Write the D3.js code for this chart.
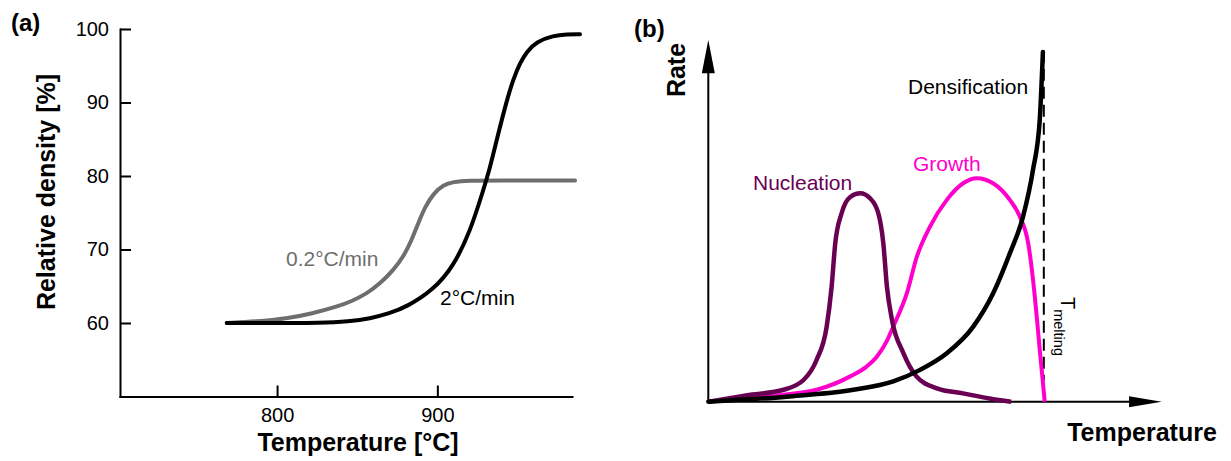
<!DOCTYPE html>
<html>
<head>
<meta charset="utf-8">
<script src="https://cdn.jsdelivr.net/npm/d3@7"></script>
<style>
  body { margin: 0; background: #fff; }
  svg { display: block; }
  text { font-family: Arial, "Liberation Sans", sans-serif; }
</style>
</head>
<body>
<svg id="fig" width="1231" height="461"></svg>
<script>
// ---------- Panel (a): relative density vs. temperature ----------
const slowTemp    = [768.6, 787.0, 806.0, 822.0, 837.2, 847.0, 855.9, 864.5, 872.5, 878.8, 884.0, 888.1, 892.3, 897.5, 903.7, 910.0, 918.3, 940.0, 965.0, 985.9];
const slowDensity = [60.0, 60.2, 60.6, 61.3, 62.2, 63.0, 64.0, 65.4, 67.2, 69.0, 71.3, 73.6, 75.8, 77.6, 78.8, 79.2, 79.4, 79.4, 79.4, 79.4];
const fastTemp    = [768.6, 800.0, 826.8, 845.0, 858.0, 870.0, 880.9, 897.5, 910.0, 920.4, 928.7, 932.8, 937.0, 943.3, 947.4, 951.6, 955.7, 962.0, 972.3, 980.7, 989.0];
const fastDensity = [60.0, 60.0, 60.0, 60.2, 60.6, 61.3, 62.2, 64.5, 67.7, 72.4, 78.1, 81.1, 84.9, 90.3, 93.2, 95.4, 96.9, 98.3, 99.1, 99.3, 99.3];
const densityTicks = [60, 70, 80, 90, 100];
const tempTicks    = [800, 900];

// ---------- Panel (b): schematic rates vs. temperature ----------
const nucT    = [0, 9.3, 16.6, 21.0, 23.9, 26.1, 27.2, 28.0, 29.4, 31.3, 33.5, 35.7, 37.5, 38.6, 39.4, 40.5, 43.0, 45.9, 50.4, 56.2, 62.0, 66.8];
const nucRate = [0, 1.9, 3.3, 6.0, 11.6, 20.7, 31.8, 43.8, 52.1, 56.6, 57.6, 56.2, 52.1, 43.8, 31.8, 22.7, 13.5, 7.0, 3.7, 2.3, 0.9, 0];
const growT    = [0, 12.9, 23.9, 31.3, 34.9, 37.2, 39.3, 40.8, 43.8, 46.0, 48.9, 52.6, 56.2, 59.2, 62.8, 66.5, 68.7, 70.6, 71.7, 72.5, 73.1, 73.7, 74.2];
const growRate = [0, 1.5, 3.3, 7.0, 9.7, 12.5, 16.6, 20.8, 30.0, 40.1, 48.4, 55.8, 60.4, 61.8, 60.4, 55.8, 51.2, 43.5, 32.8, 22.7, 14.4, 6.6, 0];
const densT    = [0, 17.3, 32.0, 40.8, 46.7, 52.6, 58.4, 62.8, 66.5, 69.4, 71.6, 73.1, 73.8];
const densRate = [0, 1.4, 3.3, 5.6, 8.8, 13.4, 20.7, 29.9, 41.0, 51.1, 64.0, 77.9, 96.7];
const meltingT = 74.0;

const COLORS = { slow: "#6e6e6e", fast: "#000", nuc: "#690052", grow: "#ff00cc", dens: "#000" };

const svg = d3.select("#fig");
const zip = (xs, ys) => xs.map((x, i) => [x, ys[i]]);

// ===== Panel (a) =====
const xA = d3.scaleLinear().domain([702, 984]).range([120, 572]);
const yA = d3.scaleLinear().domain([50, 100]).range([396.5, 29]);
const gA = svg.append("g");

function styleAxis(g) {
  g.attr("font-family", null).attr("font-size", null);
  g.select(".domain").attr("stroke", "#000").attr("stroke-width", 2).attr("stroke-linecap", "square");
  g.selectAll(".tick line").attr("stroke", "#000").attr("stroke-width", 2);
  g.selectAll(".tick text").attr("fill", "#000").style("font-size", "20px");
}

gA.append("g")
  .attr("transform", `translate(0,${yA(50)})`)
  .call(d3.axisBottom(xA).tickValues(tempTicks).tickSizeInner(-11).tickSizeOuter(0).tickPadding(11).tickFormat(d3.format("d")))
  .call(styleAxis);

gA.append("g")
  .attr("transform", `translate(${xA(702)},0)`)
  .call(d3.axisLeft(yA).tickValues(densityTicks).tickSizeInner(-11).tickSizeOuter(0).tickPadding(11).tickFormat(d3.format("d")))
  .call(styleAxis);

const lineA = d3.line().x(d => xA(d[0])).y(d => yA(d[1])).curve(d3.curveBasis);

gA.append("path").datum(zip(slowTemp, slowDensity))
  .attr("d", lineA).attr("fill", "none").attr("stroke", COLORS.slow)
  .attr("stroke-width", 4).attr("stroke-linecap", "round");
gA.append("path").datum(zip(fastTemp, fastDensity))
  .attr("d", lineA).attr("fill", "none").attr("stroke", COLORS.fast)
  .attr("stroke-width", 4).attr("stroke-linecap", "round");

gA.append("text").text("0.2°C/min").attr("x", 286).attr("y", 266)
  .attr("fill", COLORS.slow).style("font-size", "21px");
gA.append("text").text("2°C/min").attr("x", 440).attr("y", 305)
  .attr("fill", "#000").style("font-size", "21px");

gA.append("text").text("Temperature [°C]").attr("x", 358).attr("y", 451)
  .attr("text-anchor", "middle").style("font-size", "25px").style("font-weight", "bold");
gA.append("text").text("Relative density [%]")
  .attr("transform", "translate(55,192) rotate(-90)")
  .attr("text-anchor", "middle").style("font-size", "25px").style("font-weight", "bold");
gA.append("text").text("(a)").attr("x", 11).attr("y", 31)
  .style("font-size", "24px").style("font-weight", "bold");

// ===== Panel (b) =====
const xB = d3.scaleLinear().domain([0, 100]).range([708.3, 1161.7]);
const yB = d3.scaleLinear().domain([0, 100]).range([401.7, 40]);
const gB = svg.append("g");

// axes with arrowheads
gB.append("line").attr("x1", xB(0)).attr("y1", yB(0)).attr("x2", xB(0)).attr("y2", yB(91))
  .attr("stroke", "#000").attr("stroke-width", 2);
gB.append("line").attr("x1", xB(0)).attr("y1", yB(0)).attr("x2", xB(93)).attr("y2", yB(0))
  .attr("stroke", "#000").attr("stroke-width", 2);
gB.append("path")
  .attr("d", `M${xB(0)},${yB(100)}L${xB(0) + 6.5},${yB(90.8)}L${xB(0) - 6.5},${yB(90.8)}Z`)
  .attr("fill", "#000");
gB.append("path")
  .attr("d", `M${xB(100)},${yB(0)}L${xB(92.8)},${yB(0) - 5.5}L${xB(92.8)},${yB(0) + 5.5}Z`)
  .attr("fill", "#000");

const lineB = d3.line().x(d => xB(d[0])).y(d => yB(d[1])).curve(d3.curveMonotoneX);

// melting-point marker
gB.append("line").attr("x1", xB(meltingT)).attr("x2", xB(meltingT))
  .attr("y1", yB(97)).attr("y2", yB(6))
  .attr("stroke", "#000").attr("stroke-width", 2).attr("stroke-dasharray", "12,6");

gB.append("path").datum(zip(growT, growRate))
  .attr("d", lineB).attr("fill", "none").attr("stroke", COLORS.grow)
  .attr("stroke-width", 4).attr("stroke-linecap", "butt");
gB.append("path").datum(zip(nucT, nucRate))
  .attr("d", lineB).attr("fill", "none").attr("stroke", COLORS.nuc)
  .attr("stroke-width", 4.5).attr("stroke-linecap", "butt");
gB.append("path").datum(zip(densT, densRate))
  .attr("d", lineB).attr("fill", "none").attr("stroke", COLORS.dens)
  .attr("stroke-width", 4.5).attr("stroke-linecap", "round");

gB.append("text").text("Nucleation").attr("x", 753).attr("y", 190)
  .attr("fill", COLORS.nuc).style("font-size", "21px");
gB.append("text").text("Growth").attr("x", 913).attr("y", 171)
  .attr("fill", COLORS.grow).style("font-size", "21px");
gB.append("text").text("Densification").attr("x", 908).attr("y", 94)
  .attr("fill", "#000").style("font-size", "21px");

const tm = gB.append("text")
  .attr("transform", `translate(${xB(meltingT) + 17},297) rotate(90)`)
  .attr("fill", "#000");
tm.append("tspan").text("T").style("font-size", "20px");
tm.append("tspan").text("melting").attr("dy", 7).style("font-size", "14.5px");

gB.append("text").text("Rate")
  .attr("transform", "translate(685,70) rotate(-90)")
  .attr("text-anchor", "middle").style("font-size", "25px").style("font-weight", "bold");
gB.append("text").text("Temperature").attr("x", 1142).attr("y", 441)
  .attr("text-anchor", "middle").style("font-size", "25px").style("font-weight", "bold");
gB.append("text").text("(b)").attr("x", 634).attr("y", 37)
  .style("font-size", "24px").style("font-weight", "bold");
</script>
</body>
</html>
